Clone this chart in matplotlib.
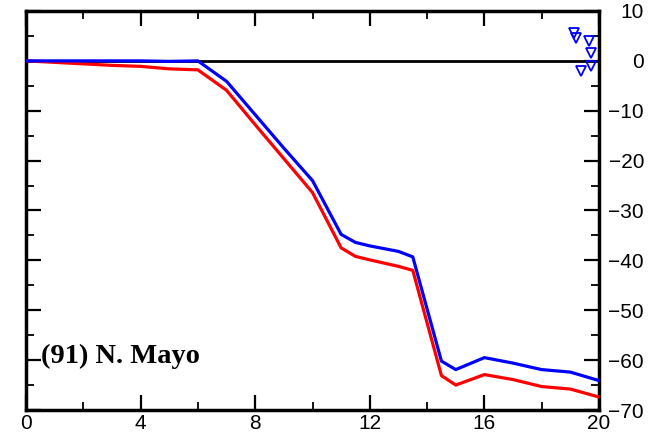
import matplotlib
matplotlib.use("Agg")
import matplotlib.pyplot as plt
from matplotlib.ticker import MultipleLocator

x = [0, 1, 2, 3, 4, 5, 6, 7, 8, 9, 10, 11, 11.5, 12, 13, 13.5, 14.5, 15, 16, 17, 18, 19, 20]
blue = [0.0, 0.0, 0.0, 0.0, 0.0, -0.1, 0.0, -4.1, -10.8, -17.5, -24.0, -34.8, -36.4, -37.1, -38.2,
        -39.3, -60.2, -61.9, -59.5, -60.6, -61.9, -62.4, -64.1]
red = [0.0, -0.3, -0.6, -0.9, -1.1, -1.6, -1.8, -5.9, -12.8, -19.6, -26.4, -37.5, -39.2, -39.9, -41.2,
       -42.0, -63.1, -65.0, -62.9, -63.9, -65.3, -65.8, -67.4]
tri_x = [19.13, 19.19, 19.65, 19.72, 19.72, 19.37]
tri_y = [5.5, 4.5, 3.9, 1.5, -1.0, -2.1]
xticks = [0, 4, 8, 12, 16, 20]
yticks = [10, 0, -10, -20, -30, -40, -50, -60, -70]
label = "(91) N. Mayo"

plt.rcParams['font.family'] = ['Liberation Sans', 'DejaVu Sans']
fig = plt.figure(figsize=(6.71, 4.40), dpi=100)
ax = fig.add_axes([26/671, 1 - 410/440, (599 - 26)/671, (410 - 11)/440])

ax.axhline(0, color='black', lw=2.0, zorder=1)
ax.plot(x, red, color='#ff0000', lw=2.3, zorder=3)
ax.plot(x, blue, color='#0000ff', lw=2.3, zorder=4)
ax.plot(tri_x, tri_y, linestyle='none', marker='v', markersize=7.5,
        markerfacecolor='none', markeredgecolor='#0000ff', markeredgewidth=1.3, zorder=5)

ax.set_xlim(0, 20)
ax.set_ylim(-70, 10)
ax.set_xticks(xticks)
ax.set_yticks(yticks)
ax.xaxis.set_minor_locator(MultipleLocator(2))
ax.yaxis.set_minor_locator(MultipleLocator(5))
ax.tick_params(axis='both', which='major', direction='in', length=11, width=1.6,
               top=True, bottom=True, left=True, right=True, labelsize=15)
ax.tick_params(axis='both', which='minor', direction='in', length=6, width=1.3,
               top=True, bottom=True, left=True, right=True)
ax.tick_params(axis='y', labelleft=False, labelright=True, pad=32.4)
ax.tick_params(axis='x', pad=3)
for t in ax.get_yticklabels():
    t.set_horizontalalignment('right')
for s in ax.spines.values():
    s.set_linewidth(2.5)

ax.text(0.52, -59.3, label, fontfamily='Liberation Serif', fontweight='bold',
        fontsize=20.5, ha='left', va='center')

fig.savefig("out.png", dpi=100)
